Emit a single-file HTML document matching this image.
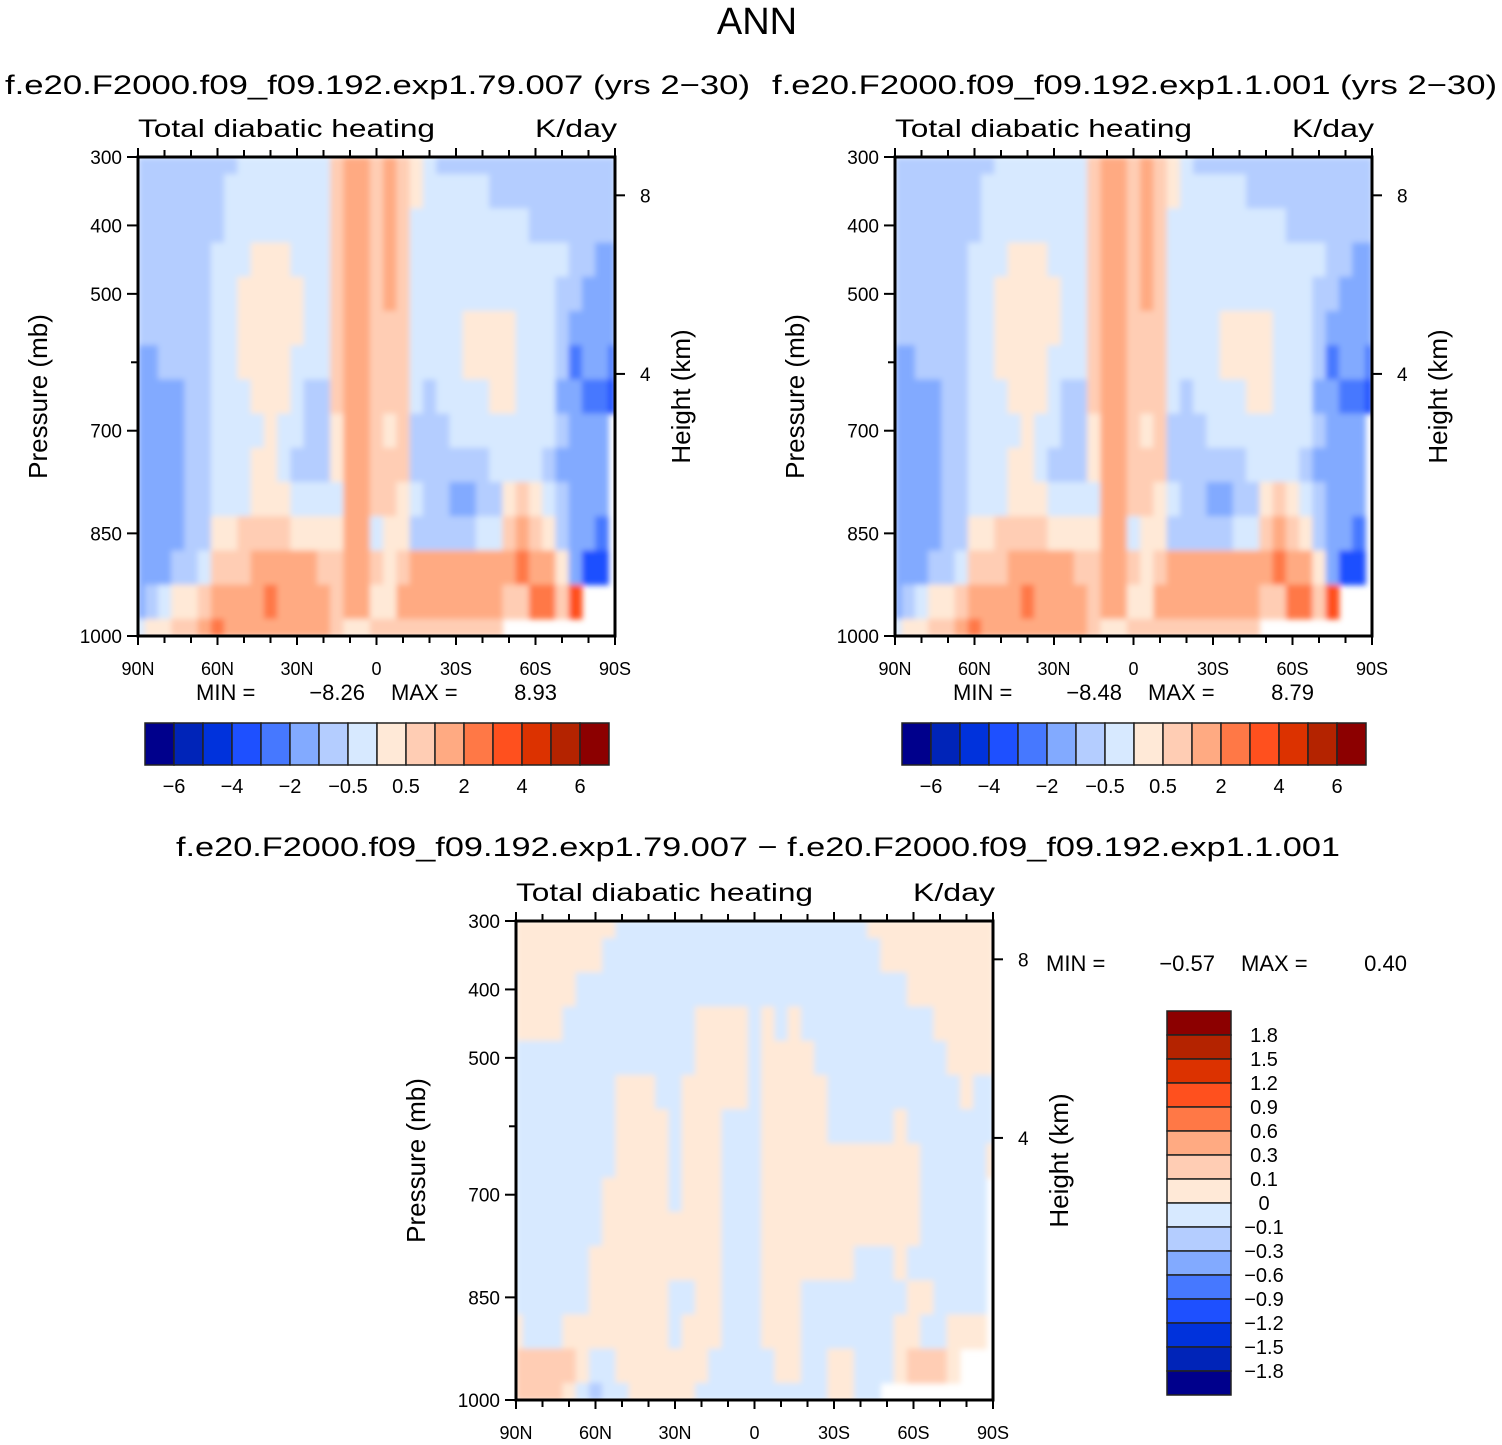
<!DOCTYPE html>
<html><head><meta charset="utf-8"><style>
html,body{margin:0;padding:0;background:#fff;}
svg{display:block;font-family:"Liberation Sans",sans-serif;}
</style></head><body>
<svg id="fig" width="1502" height="1445" viewBox="0 0 1502 1445" xmlns="http://www.w3.org/2000/svg">
<defs><filter id="sm" x="0" y="0" width="1" height="1"><feGaussianBlur stdDeviation="3"/></filter></defs>
<text x="757" y="34" font-size="38" text-anchor="middle">ANN</text>
<text x="5" y="94" font-size="27" textLength="745" lengthAdjust="spacingAndGlyphs">f.e20.F2000.f09_f09.192.exp1.79.007 (yrs 2−30)</text>
<text x="772" y="94" font-size="27" textLength="725" lengthAdjust="spacingAndGlyphs">f.e20.F2000.f09_f09.192.exp1.1.001 (yrs 2−30)</text>
<text x="176" y="856" font-size="27" textLength="1164" lengthAdjust="spacingAndGlyphs">f.e20.F2000.f09_f09.192.exp1.79.007 − f.e20.F2000.f09_f09.192.exp1.1.001</text>
<g id="p1"></g>
<g id="p2"></g>
<g id="p3"></g>
<g id="cb"></g>
</svg>
<script>
const palette = ["#00008c","#0024b8","#0032dc","#1e50ff","#4678ff","#82aaff","#b4cdff","#d7e9ff","#ffe9d7","#ffcdb4","#ffaa82","#ff7846","#ff501e","#dc3200","#b42300","#8c0000"];
const latLabels = ["90N","60N","30N","0","30S","60S","90S"];
const pressTicks = [300,400,500,600,700,850,1000];
const pressLabels = ["300","400","500","","700","850","1000"];
const heightTicks = [8,4];
const heightTickP = [356,617];
const topCbLabels = ["−6","−4","−2","−0.5","0.5","2","4","6"];
const diffCbLabels = ["1.8","1.5","1.2","0.9","0.6","0.3","0.1","0","−0.1","−0.3","−0.6","−0.9","−1.2","−1.5","−1.8"];
const stats1 = ["−8.26","8.93"];
const stats2 = ["−8.48","8.79"];
const stats3 = ["−0.57","0.40"];
// rows: pressure 300..1000 step 50; columns: latitude 90N..90S step 5 (level index hex, '-' = missing)
const field1Rows = [
"66666666"+"7777777"+"9aa9a98"+"7"+"66666666666666",
"6666666"+"77777777"+"9aa9a98"+"77777"+"6666666666",
"6666666"+"77777777"+"9aa9a9"+"7"+"77777777"+"6666666",
"666666"+"777"+"888"+"777"+"9aa9a9"+"7"+"77777777777"+"66"+"55",
"666666"+"77"+"88888"+"77"+"9aa9a9"+"7"+"7777777777"+"66"+"555",
"666666"+"77"+"88888"+"77"+"9aa999"+"7"+"777"+"8888"+"777"+"6"+"5555",
"55"+"6666"+"77"+"8888"+"777"+"9aa999"+"7"+"777"+"8888"+"777"+"6"+"4554",
"5555"+"66"+"777"+"888"+"7"+"66"+"9aa999"+"7"+"6"+"7777"+"88"+"777"+"55"+"443",
"5555"+"66"+"7777"+"8"+"77"+"66"+"8aa989"+"666"+"77777777"+"6"+"555"+"-",
"5555"+"66"+"777"+"88"+"7"+"666"+"8aa999"+"666666"+"7777"+"6"+"5555"+"-",
"5555"+"66"+"777"+"888"+"7777"+"aa998"+"7"+"66"+"55"+"66"+"898"+"7"+"6"+"555"+"-",
"5555"+"66"+"88"+"9999"+"8888"+"aa"+"788"+"66666"+"77"+"9a98"+"6"+"554"+"-",
"555"+"66"+"7"+"999"+"aaaaa"+"99"+"aa"+"989"+"aaaaaaaa"+"b"+"aa"+"8"+"533"+"-",
"567889"+"aaaa"+"b"+"aaaa"+"9"+"aa"+"88"+"aaaaaaaa"+"99"+"bb"+"9"+"c"+"---",
"78899ab"+"aaaaaaaa"+"9"+"88"+"9999999999"+"---------"
];
const field2Rows = field1Rows.slice();
const diffRows = [
"88888888"+"7777777777777777777"+"8888888888",
"8888888"+"777777777777777777777"+"888888888",
"88888"+"7777777777777777777777777"+"8888888",
"8888"+"7777777777"+"8888"+"7"+"8"+"7"+"8"+"7777777777"+"88888",
"77777777777777"+"8888"+"7"+"8888"+"7777777777"+"8888",
"77777777"+"888"+"77"+"88888"+"7"+"88888"+"7777777777"+"877",
"77777777"+"8888"+"7"+"888"+"777"+"88888"+"77777"+"8"+"7777777",
"77777777"+"8888"+"7"+"888"+"777"+"888888888888"+"77777"+"8",
"7777777"+"88888"+"7"+"888"+"777"+"888888888888"+"77777"+"-",
"7777777"+"888888888"+"777"+"888888888888"+"77777"+"-",
"777777"+"8888888888"+"777"+"8888888"+"777"+"8"+"777777"+"-",
"777777"+"888888"+"77"+"88"+"777"+"888"+"77777777"+"88"+"7777"+"-",
"8"+"777"+"88888888"+"7"+"888"+"777"+"888"+"7777777"+"88"+"77"+"888"+"-",
"99999"+"8"+"77"+"8888888"+"77777"+"88"+"77"+"88"+"777"+"8"+"999"+"8"+"---",
"9999"+"8"+"7"+"6"+"7"+"7"+"88888"+"77777777"+"77"+"88"+"77"+"---------"
];
function fix(rows){return rows.map(r=>{while(r.length<37)r+=r[r.length-1];return r.slice(0,37);});}
const F1 = fix(field1Rows), F2 = fix(field2Rows), F3 = fix(diffRows);

const NS="http://www.w3.org/2000/svg";
function el(tag, attrs, parent){const e=document.createElementNS(NS,tag);for(const k in attrs)e.setAttribute(k,attrs[k]);parent.appendChild(e);return e;}
const W=477,H=479;
function xScale(x0,lat){return x0+(90-lat)/180*W;}
function yScale(y0,p){return y0+(p-300)/700*H;}
let clipN=0;
function drawPanel(g,rows,x0,y0,stats,statsPos){
  const nC=37,nR=rows.length;
  const cid='clip'+(clipN++);
  const cp=el('clipPath',{id:cid},g);
  el('rect',{x:x0,y:y0,width:W,height:H},cp);
  const outer=el('g',{'clip-path':`url(#${cid})`},g);
  const cells=el('g',{filter:'url(#sm)'},outer);
  
  
  for(let j=0;j<nR;j++){
    const p=300+50*j;
    const ya=yScale(y0,Math.max(300,p-25)), yb=yScale(y0,Math.min(1000,p+25));
    for(let i=0;i<nC;i++){
      const ch=rows[j][i]; if(ch==='-')continue;
      const lat=90-5*i;
      const xa=xScale(x0,Math.min(90,lat+2.5)), xb=xScale(x0,Math.max(-90,lat-2.5));
      const r=el('rect',{x:xa.toFixed(2),y:ya.toFixed(2),width:(xb-xa+0.6).toFixed(2),height:(yb-ya+0.6).toFixed(2),fill:palette[parseInt(ch,16)]},cells);
      
      
    }
  }
  const fr=el('rect',{x:x0,y:y0,width:W,height:H,fill:'none',stroke:'#000','stroke-width':3},g);
  
  
  for(let lat=90;lat>=-90;lat-=10){
    const x=xScale(x0,lat); const major=(lat%30===0);
    el('line',{x1:x,x2:x,y1:y0,y2:y0-(major?9:7),stroke:'#000','stroke-width':2},g);
    el('line',{x1:x,x2:x,y1:y0+H,y2:y0+H+(major?9:7),stroke:'#000','stroke-width':2},g);
  }
  latLabels.forEach((t,k)=>{
    const tx=el('text',{x:xScale(x0,90-30*k),y:y0+H+39,'font-size':18,'text-anchor':'middle'},g);
    tx.textContent=t;
    
    
  });
  pressTicks.forEach((p,k)=>{
    const y=yScale(y0,p);
    el('line',{x1:x0,x2:x0-(pressLabels[k]?11:7),y1:y,y2:y,stroke:'#000','stroke-width':2},g);
    if(pressLabels[k]){
      const tx=el('text',{x:x0-16,y:y+7,'font-size':19,'text-anchor':'end'},g);
      tx.textContent=pressLabels[k];
      
      
    }
  });
  heightTicks.forEach((h,k)=>{
    const y=yScale(y0,heightTickP[k]);
    el('line',{x1:x0+W,x2:x0+W+10,y1:y,y2:y,stroke:'#000','stroke-width':2},g);
    const tx=el('text',{x:x0+W+25,y:y+7,'font-size':19},g);
    tx.textContent=h;
    
    
  });
  const t1=el('text',{x:x0,y:y0-20,'font-size':25,textLength:297,lengthAdjust:'spacingAndGlyphs'},g);
  t1.textContent='Total diabatic heating';
  
  
  const t2=el('text',{x:x0+W-80,y:y0-20,'font-size':25,textLength:82,lengthAdjust:'spacingAndGlyphs'},g);
  t2.textContent='K/day';
  
  
  const cy=y0+H/2;
  const ya=el('text',{x:0,y:0,'font-size':26,'text-anchor':'middle',transform:`translate(${x0-91},${cy}) rotate(-90)`},g);
  ya.textContent='Pressure (mb)';
  
  
  const yb=el('text',{x:0,y:0,'font-size':26,'text-anchor':'middle',transform:`translate(${x0+W+75},${cy}) rotate(-90)`},g);
  yb.textContent='Height (km)';
  
  
  const sx=statsPos[0], sy=statsPos[1];
  const parts=[['MIN =',sx,'start','min-label'],[stats[0],sx+169,'end','min-value'],['MAX =',sx+195,'start','max-label'],[stats[1],sx+361,'end','max-value']];
  parts.forEach(pt=>{
    const st=el('text',{x:pt[1],y:sy,'font-size':22,'text-anchor':pt[2]},g);
    st.textContent=pt[0];
    
    
  });
}
drawPanel(document.getElementById('p1'),F1,138,157,stats1,[196,700]);
drawPanel(document.getElementById('p2'),F2,895,157,stats2,[953,700]);
drawPanel(document.getElementById('p3'),F3,516,921,stats3,[1046,971]);

const cb=document.getElementById('cb');
function hbar(x0){
  const g=el('g',{},cb);
  
  
  for(let i=0;i<16;i++){
    const r=el('rect',{x:x0+i*29,y:723,width:29,height:42,fill:palette[i],stroke:'#222','stroke-width':1.5},g);
    
    
  }
  topCbLabels.forEach((t,k)=>{
    const tx=el('text',{x:x0+29*(1+2*k),y:793,'font-size':20,'text-anchor':'middle'},g);
    tx.textContent=t;
    
    
  });
}
hbar(145); hbar(902);
(function(){
  const g=el('g',{},cb);
  
  
  for(let i=0;i<16;i++){
    const r=el('rect',{x:1167,y:1011+i*24,width:64,height:24,fill:palette[15-i],stroke:'#222','stroke-width':1.5},g);
    
    
  }
  diffCbLabels.forEach((t,k)=>{
    const tx=el('text',{x:1264,y:1011+24*(k+1)+7,'font-size':20,'text-anchor':'middle'},g);
    tx.textContent=t;
    
    
  });
})();
</script>
</body></html>
